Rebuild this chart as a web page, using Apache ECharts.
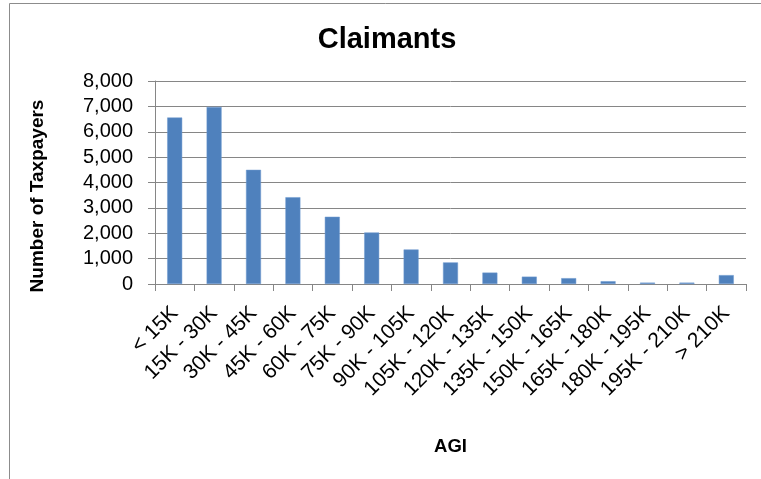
<!DOCTYPE html>
<html>
<head>
<meta charset="utf-8">
<script src="https://cdn.jsdelivr.net/npm/echarts@6/dist/echarts.min.js"></script>
<style>
  html, body { margin: 0; padding: 0; background: #fff; }
  #chart { width: 761px; height: 479px; }
</style>
</head>
<body>
<div id="chart"></div>
<script>
const chartTitle = 'Claimants';
const xAxisTitle = 'AGI';
const yAxisTitle = 'Number of Taxpayers';
const categories = ['< 15K', '15K - 30K', '30K - 45K', '45K - 60K', '60K - 75K', '75K - 90K', '90K - 105K', '105K - 120K', '120K - 135K', '135K - 150K', '150K - 165K', '165K - 180K', '180K - 195K', '195K - 210K', '> 210K'];
const claimants = [6560, 6980, 4500, 3420, 2650, 2030, 1360, 850, 450, 290, 230, 110, 55, 55, 350];
const yMin = 0, yMax = 8000, yStep = 1000;

const FONT = '"Liberation Sans", Arial, sans-serif';
const chart = echarts.init(document.getElementById('chart'), null, { renderer: 'canvas' });
chart.setOption({
  animation: false,
  backgroundColor: '#ffffff',
  graphic: [
    { type: 'line', shape: { x1: 9.5, y1: 3.5, x2: 761, y2: 3.5 }, style: { stroke: '#8c8c8c', lineWidth: 1 } },
    { type: 'line', shape: { x1: 9.5, y1: 3.5, x2: 9.5, y2: 479 }, style: { stroke: '#8c8c8c', lineWidth: 1 } },
    { type: 'text', x: 387, y: 40, style: { text: chartTitle, textAlign: 'center', textVerticalAlign: 'middle', font: 'bold 29px ' + FONT, fill: '#000' } },
    { type: 'text', x: 38, y: 196, rotation: Math.PI / 2, style: { text: yAxisTitle, textAlign: 'center', textVerticalAlign: 'middle', font: 'bold 19px ' + FONT, fill: '#000' } }
  ],
  grid: { left: 155, right: 15, top: 81, bottom: 195, containLabel: false },
  xAxis: {
    type: 'category',
    data: categories,
    name: xAxisTitle,
    nameLocation: 'middle',
    nameGap: 153,
    nameTextStyle: { fontFamily: FONT, fontWeight: 'bold', fontSize: 18.5, color: '#000' },
    axisLine: { lineStyle: { color: '#868686', width: 1 } },
    axisTick: { show: true, alignWithLabel: false, length: 7, lineStyle: { color: '#868686' } },
    axisLabel: { rotate: 45, margin: 26, padding: [25, 0, 0, 0], fontFamily: FONT, fontSize: 21, color: '#000', interval: 0 },
    splitLine: { show: false }
  },
  yAxis: {
    type: 'value',
    min: yMin, max: yMax, interval: yStep,
    axisLine: { show: true, lineStyle: { color: '#868686', width: 1 } },
    axisTick: { show: true, length: 7, lineStyle: { color: '#868686' } },
    axisLabel: { margin: 22, fontFamily: FONT, fontSize: 20, color: '#000',
      formatter: v => v.toLocaleString('en-US') },
    splitLine: { show: true, lineStyle: { color: '#868686', width: 1 } }
  },
  series: [{
    type: 'bar',
    data: claimants,
    barWidth: '38%',
    itemStyle: { color: '#4F81BD', borderColor: '#6f9bd0', borderWidth: 0.5 }
  }]
});
</script>
</body>
</html>
